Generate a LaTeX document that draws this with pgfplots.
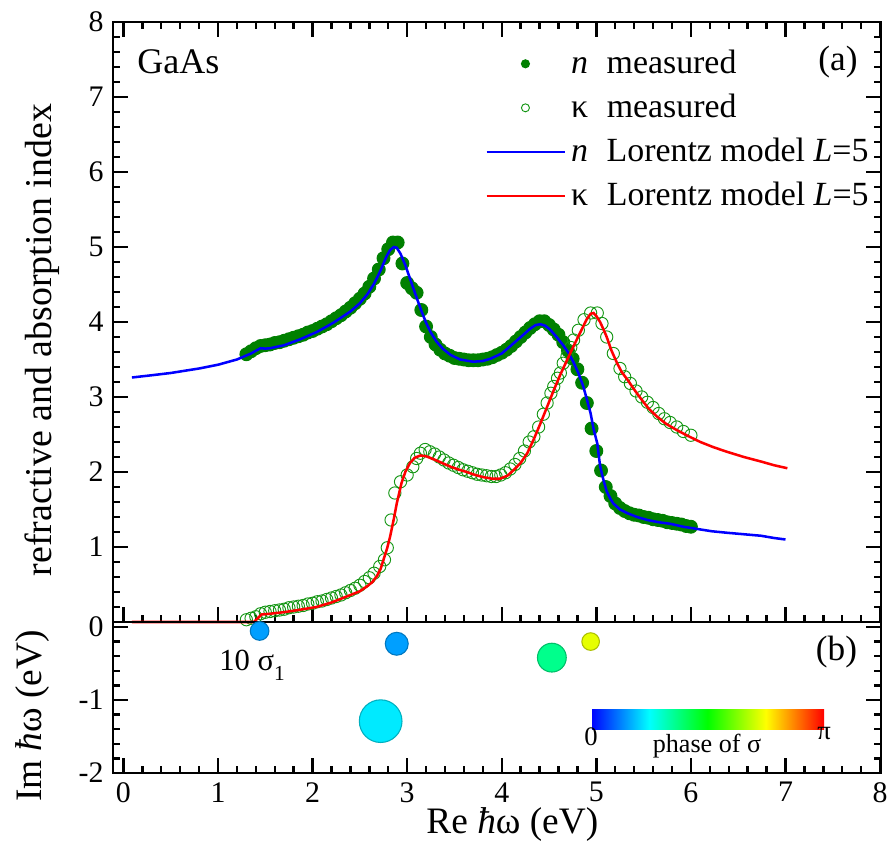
\documentclass[border=0pt]{standalone}
\usepackage{fontspec}
\setmainfont{Liberation Serif}
\usepackage{pgfplots}
\pgfplotsset{compat=1.18}
\usetikzlibrary{calc}
\definecolor{dkgreen}{RGB}{0,128,0}
\definecolor{ltgreen}{RGB}{20,150,20}
\pgfplotsset{
  mylinelegend/.style={legend image code/.code={\draw[##1] (0pt,0pt) -- (29.25pt,0pt);}},
  mymarklegend/.style={legend image code/.code={\draw[##1, mark size=1.5pt] plot coordinates {(14.6pt,0pt)};}},
}

\pgfplotstableread{
x y
0.09 3.26
0.30 3.29
0.50 3.32
0.80 3.38
1.00 3.43
1.20 3.50
1.35 3.58
1.42 3.63
1.45 3.65
1.50 3.645
1.55 3.65
1.70 3.69
1.87 3.77
2.05 3.87
2.22 3.99
2.40 4.14
2.50 4.25
2.58 4.37
2.65 4.51
2.72 4.69
2.78 4.87
2.82 4.96
2.86 5.00
2.89 4.99
2.93 4.91
2.98 4.76
3.03 4.58
3.09 4.36
3.15 4.15
3.20 3.99
3.25 3.86
3.31 3.74
3.38 3.64
3.46 3.56
3.56 3.50
3.70 3.47
3.80 3.48
3.88 3.51
4.00 3.58
4.12 3.71
4.22 3.82
4.30 3.91
4.36 3.96
4.41 3.97
4.46 3.95
4.51 3.90
4.58 3.80
4.65 3.69
4.71 3.58
4.76 3.46
4.81 3.32
4.86 3.15
4.90 2.97
4.94 2.78
4.97 2.58
5.01 2.38
5.04 2.08
5.07 1.92
5.11 1.74
5.15 1.64
5.18 1.58
5.25 1.50
5.33 1.45
5.43 1.40
5.54 1.36
5.66 1.33
5.78 1.31
5.92 1.27
6.07 1.24
6.22 1.21
6.38 1.19
6.56 1.17
6.74 1.15
6.88 1.12
7.00 1.10
}\nmodel

\pgfplotstableread{
x y
0.09 0
1.38 0
1.42 0.05
1.46 0.10
1.55 0.11
1.69 0.13
1.85 0.16
2.04 0.20
2.20 0.26
2.40 0.36
2.50 0.41
2.57 0.47
2.63 0.53
2.68 0.61
2.72 0.71
2.75 0.83
2.79 0.99
2.82 1.14
2.86 1.38
2.89 1.58
2.94 1.85
2.98 2.00
3.03 2.12
3.08 2.19
3.14 2.22
3.20 2.21
3.28 2.17
3.37 2.12
3.46 2.07
3.55 2.03
3.63 2.00
3.72 1.96
3.81 1.93
3.90 1.91
3.98 1.91
4.06 1.95
4.13 2.03
4.20 2.12
4.27 2.25
4.34 2.44
4.41 2.65
4.48 2.87
4.55 3.09
4.62 3.30
4.69 3.49
4.76 3.68
4.83 3.86
4.90 4.04
4.94 4.11
4.97 4.12
5.00 4.08
5.04 4.00
5.08 3.89
5.11 3.80
5.16 3.62
5.22 3.45
5.27 3.33
5.33 3.23
5.40 3.10
5.47 2.98
5.55 2.85
5.64 2.74
5.74 2.64
5.85 2.56
5.97 2.48
6.10 2.40
6.24 2.33
6.38 2.27
6.56 2.20
6.74 2.14
6.88 2.09
7.02 2.05
}\kmodel

\pgfplotstableread{
x y
1.30 3.57
1.35 3.61
1.40 3.65
1.45 3.68
1.50 3.69
1.55 3.70
1.60 3.72
1.65 3.73
1.70 3.75
1.75 3.77
1.80 3.79
1.85 3.81
1.90 3.83
1.95 3.86
2.00 3.88
2.05 3.91
2.10 3.94
2.15 3.97
2.20 4.01
2.25 4.05
2.30 4.09
2.35 4.14
2.40 4.19
2.45 4.25
2.50 4.31
2.55 4.38
2.60 4.47
2.65 4.58
2.70 4.70
2.75 4.85
2.80 4.97
2.85 5.06
2.90 5.06
2.95 4.78
3.00 4.52
3.05 4.45
3.10 4.39
3.15 4.16
3.20 3.94
3.25 3.80
3.30 3.70
3.35 3.63
3.40 3.58
3.45 3.55
3.50 3.52
3.55 3.51
3.60 3.50
3.65 3.49
3.70 3.49
3.75 3.49
3.80 3.50
3.85 3.51
3.90 3.53
3.95 3.56
4.00 3.59
4.05 3.63
4.10 3.68
4.15 3.74
4.20 3.80
4.25 3.86
4.30 3.92
4.35 3.97
4.40 4.01
4.45 4.01
4.50 3.96
4.55 3.90
4.60 3.83
4.65 3.73
4.70 3.62
4.75 3.51
4.80 3.37
4.85 3.19
4.90 2.92
4.95 2.58
5.00 2.28
5.05 2.02
5.10 1.80
5.15 1.68
5.20 1.58
5.25 1.52
5.30 1.48
5.35 1.45
5.40 1.43
5.45 1.42
5.50 1.40
5.55 1.39
5.60 1.37
5.65 1.36
5.70 1.35
5.75 1.33
5.80 1.32
5.85 1.31
5.90 1.30
5.95 1.28
6.00 1.27
}\nmeas

\pgfplotstableread{
x y
1.30 0.03
1.35 0.05
1.40 0.07
1.45 0.11
1.50 0.13
1.55 0.14
1.60 0.15
1.65 0.16
1.70 0.17
1.75 0.19
1.80 0.20
1.85 0.21
1.90 0.22
1.95 0.24
2.00 0.25
2.05 0.27
2.10 0.28
2.15 0.30
2.20 0.32
2.25 0.34
2.30 0.36
2.35 0.39
2.40 0.42
2.45 0.45
2.50 0.49
2.55 0.54
2.60 0.59
2.65 0.65
2.71 0.74
2.76 0.83
2.79 0.99
2.83 1.36
2.87 1.72
2.93 1.87
3.00 1.96
3.06 2.07
3.10 2.18
3.14 2.25
3.19 2.30
3.24 2.27
3.29 2.24
3.34 2.20
3.39 2.16
3.44 2.12
3.49 2.09
3.54 2.06
3.59 2.03
3.64 2.01
3.69 1.99
3.74 1.97
3.79 1.96
3.84 1.95
3.89 1.94
3.94 1.94
3.99 1.96
4.04 1.99
4.09 2.04
4.14 2.10
4.19 2.18
4.24 2.28
4.29 2.40
4.34 2.47
4.39 2.60
4.44 2.77
4.48 2.92
4.52 3.05
4.55 3.14
4.59 3.25
4.62 3.32
4.65 3.45
4.69 3.54
4.73 3.66
4.76 3.76
4.81 3.89
4.87 4.03
4.94 4.12
5.01 4.12
5.06 3.98
5.11 3.80
5.18 3.58
5.25 3.38
5.30 3.27
5.36 3.18
5.42 3.08
5.48 3.00
5.54 2.93
5.60 2.86
5.66 2.78
5.72 2.71
5.78 2.66
5.85 2.60
5.92 2.54
6.00 2.49
}\kmeas

\pgfplotstableread{
x y p r
1.44 -0.055 0.49 3.5
2.89 -0.23 0.49 4.3
2.72 -1.29 0.72 8.0
4.53 -0.42 1.14 5.4
4.94 -0.20 2.28 3.3
}\poles

\begin{document}
\begin{tikzpicture}
\path[use as bounding box] (0,0) rectangle (336pt,318pt);
\begin{axis}[
  at={(42.375pt,84.75pt)}, anchor=south west,
  width=288pt, height=225pt, scale only axis,
  xmin=-0.11, xmax=8.01, ymin=0, ymax=8,
  xtick={0,...,8}, xticklabels={}, minor x tick num=4,
  ytick={0,...,8}, yticklabels={,1,2,3,4,5,6,7,8}, minor y tick num=4,
  tick align=inside, xtick pos=both, ytick pos=both,
  major tick length=5.6pt, minor tick length=2.8pt,
  tick style={black, line width=0.9pt},
  axis line style={line width=1.1pt},
  tick label style={font=\fontsize{11.2}{13}\selectfont},
  /pgf/number format/assume math mode=true,
  ylabel={refractive and absorption index},
  ylabel style={at={(axis description cs:-0.0924,0.47)}, anchor=center, font=\fontsize{14.2}{16}\selectfont},
  clip=false, clip marker paths=true,
  legend cell align=left,
  legend style={at={(axis description cs:0.484,0.963)}, anchor=north west, draw=none, fill=none,
    inner sep=0pt, row sep=2.2pt, font=\fontsize{12.7}{15}\selectfont},
]
\addplot[only marks, mark=*, color=dkgreen, mark size=2.4pt, mymarklegend]
  table[x=x,y=y] {\nmeas};
\addlegendentry{\textit{n}\hspace{0.55em}measured}
\addplot[only marks, mark=o, color=ltgreen, mark size=2.3pt, mark options={line width=0.35pt}, mymarklegend]
  table[x=x,y=y] {\kmeas};
\addlegendentry{κ\hspace{0.55em}measured}
\addplot[color=blue, line width=0.95pt, mark=none, mylinelegend]
  table[x=x,y=y] {\nmodel};
\addlegendentry{\textit{n}\hspace{0.55em}Lorentz model \textit{L}=5}
\addplot[color=red, line width=0.95pt, mark=none, mylinelegend]
  table[x=x,y=y] {\kmodel};
\addlegendentry{κ\hspace{0.55em}Lorentz model \textit{L}=5}
\node[anchor=west, inner sep=0pt, font=\fontsize{13.5}{16}\selectfont] at (rel axis cs:0.031,0.933) {GaAs};
\node[inner sep=0pt, font=\fontsize{13.2}{16}\selectfont] at (rel axis cs:0.944,0.933) {(a)};
\end{axis}

\begin{axis}[
  at={(42.375pt,28.125pt)}, anchor=south west,
  width=288pt, height=56.625pt, scale only axis,
  xmin=-0.11, xmax=8.01, ymin=-2, ymax=0.068,
  xtick={0,...,8}, minor x tick num=4,
  ytick={-2,-1,0}, minor y tick num=4,
  tick align=inside, xtick pos=left, ytick pos=both,
  major tick length=5.6pt, minor tick length=2.8pt,
  tick style={black, line width=0.9pt},
  axis line style={line width=1.1pt},
  tick label style={font=\fontsize{11.2}{13}\selectfont},
  /pgf/number format/assume math mode=true,
  xlabel={Re \textit{ħ}ω (eV)},
  xlabel style={at={(axis description cs:0.52,-0.344)}, anchor=center, font=\fontsize{14}{16}\selectfont},
  ylabel={Im \textit{ħ}ω (eV)},
  ylabel style={at={(axis description cs:-0.105,0.377)}, anchor=center, font=\fontsize{14}{16}\selectfont},
  clip=false,
  colormap={phasejet}{rgb255(0cm)=(0,0,255); rgb255(1cm)=(0,255,255); rgb255(2cm)=(0,255,0); rgb255(3cm)=(255,255,0); rgb255(4cm)=(255,0,0)},
  point meta min=0, point meta max=3.14159,
  colorbar horizontal,
  colorbar style={
    at={($(parent axis.south west)+(179.25pt,24.75pt)$)}, anchor=south west,
    width=87.4pt, height=7.5pt, scale only axis,
    xtick={0,3.14159}, xticklabels={0,π}, minor xtick={},
    major tick length=0pt, xtick style={draw=none},
    axis line style={draw=none},
    xticklabel style={font=\fontsize{10}{12}\selectfont, inner sep=1pt, yshift=2pt},
  },
]
\addplot[scatter, only marks, mark=*, point meta=explicit,
  scatter/use mapped color={draw=mapped color!75!black, fill=mapped color},
  visualization depends on={\thisrow{r} \as \rr},
  scatter/@pre marker code/.append style={/tikz/mark size=\rr pt, /tikz/line width=0.2pt}]
  table[x=x, y=y, meta=p] {\poles};
\node[font=\fontsize{11.5}{14}\selectfont] at (axis cs:1.36,-0.52) {10 σ\raisebox{-0.7ex}{\fontsize{8}{9}\selectfont 1}};
\node[inner sep=0pt, font=\fontsize{13.2}{16}\selectfont] at (rel axis cs:0.942,0.803) {(b)};
\node[inner sep=0pt, font=\fontsize{9.8}{12}\selectfont] at (axis cs:6.17,-1.63) {phase of σ};
\end{axis}
\end{tikzpicture}
\end{document}
